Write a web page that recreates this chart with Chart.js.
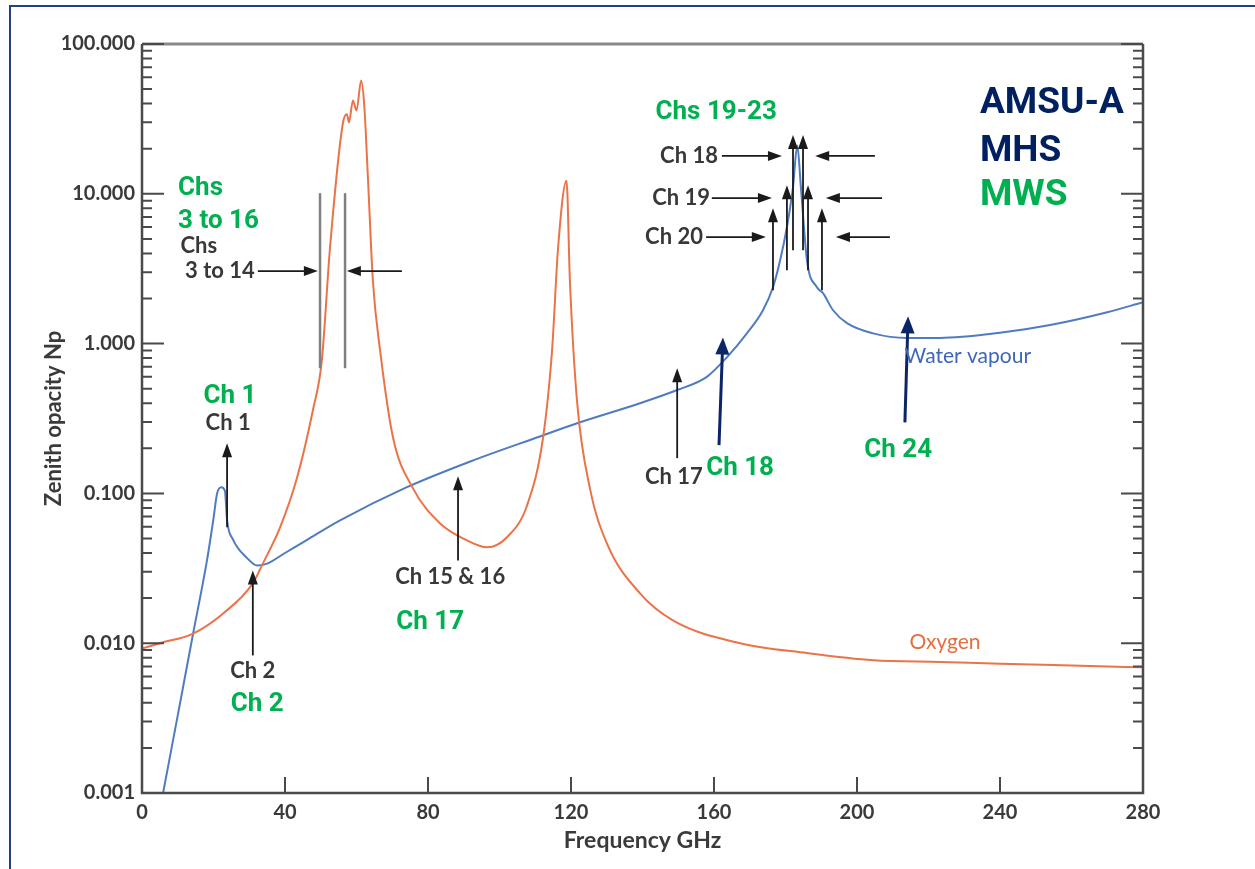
<!DOCTYPE html>
<html>
<head>
<meta charset="utf-8">
<script src="https://cdn.jsdelivr.net/npm/chart.js@4/dist/chart.umd.min.js"></script>
<style>
html, body { margin: 0; padding: 0; background: #fff; overflow: hidden; }
#frame { position: absolute; left: 9px; top: 5px; width: 1300px; height: 900px; border: 2px solid #1f3f8a; box-sizing: border-box; }
#c { position: absolute; left: 0; top: 0; }
</style>
</head>
<body>
<div id="frame"></div>
<canvas id="c" width="1255" height="869"></canvas>
<script>
// values (GHz, zenith opacity in Np)
const oxygenFreq = [0, 5, 14.3, 22.7, 31, 33.8, 38.6, 43.4, 47.8, 50.3, 52.6, 56.2, 57.3, 57.9, 59, 60, 61.3, 62.2, 63.2, 64.6, 66.6, 70.2, 75.8, 83.4, 90.9, 96.5, 102.1, 107.7, 112.2, 114.7, 116.4, 118.75, 119.7, 121.7, 125.3, 130.1, 139.3, 148.5, 167.3, 186, 204.5, 223.2, 240, 260, 280];
const oxygenOpacity = [0.0092, 0.0100, 0.0116, 0.0158, 0.0251, 0.034, 0.059, 0.128, 0.359, 0.77, 4.4, 29.7, 34, 30, 42, 36, 57, 38, 12.7, 2.6, 0.90, 0.237, 0.108, 0.063, 0.0486, 0.0437, 0.051, 0.083, 0.237, 0.90, 4.4, 12.2, 2.6, 0.41, 0.108, 0.046, 0.0215, 0.0142, 0.0100, 0.0086, 0.0077, 0.0075, 0.0073, 0.0071, 0.0069];

const vapourFreq = [5.9, 10, 14.3, 18.2, 20, 21, 22.2, 23.2, 23.8, 25.5, 29.4, 32.2, 35, 40, 46.2, 55.4, 74.1, 92.6, 111.3, 121.7, 139.3, 149.7, 158, 163.6, 169.2, 173.7, 176.5, 178.5, 180.4, 182.1, 183.3, 184.3, 186, 188.8, 190.5, 193.3, 197.2, 204.5, 214, 223.2, 240, 254, 270, 280];
const vapourOpacity = [0.001, 0.0033, 0.0116, 0.036, 0.068, 0.100, 0.110, 0.104, 0.066, 0.049, 0.037, 0.033, 0.034, 0.040, 0.049, 0.066, 0.11, 0.166, 0.24, 0.294, 0.40, 0.49, 0.60, 0.81, 1.17, 1.67, 2.38, 3.6, 6.0, 11.1, 21, 11.1, 3.6, 2.38, 2.17, 1.67, 1.37, 1.17, 1.09, 1.09, 1.18, 1.33, 1.62, 1.89];

const xTicks = [0, 40, 80, 120, 160, 200, 240, 280];
const yTicks = [0.001, 0.01, 0.1, 1, 10, 100];

const GREY = '#383838';
const GREEN = '#00b050';
const NAVY = '#002060';
const LABEL = 'bold 22px Lato';
const BIG = 'bold 26px Roboto';
const HUGE = 'bold 37px Roboto';

// text notes: [text, GHz, Np, colour, font, align]
const notes = [
  ['Chs', 15.9, 4.48, GREY, LABEL, 'center'],
  ['3 to 14', 21.8, 3.05, GREY, LABEL, 'center'],
  ['Ch 1', 24.1, 0.294, GREY, LABEL, 'center'],
  ['Ch 2', 31.0, 0.00658, GREY, LABEL, 'center'],
  ['Ch 15 & 16', 86.2, 0.0275, GREY, LABEL, 'center'],
  ['Ch 17', 148.8, 0.128, GREY, LABEL, 'center'],
  ['Ch 18', 161.1, 17.9, GREY, LABEL, 'right'],
  ['Ch 19', 158.9, 9.36, GREY, LABEL, 'right'],
  ['Ch 20', 156.9, 5.14, GREY, LABEL, 'right'],
  ['Water vapour', 231.0, 0.824, '#3f66b8', '21px Lato', 'center'],
  ['Oxygen', 224.6, 0.0101, '#e36f40', '21px Lato', 'center'],
  ['Chs', 10.1, 10.9, GREEN, BIG, 'left'],
  ['3 to 16', 10.1, 6.57, GREEN, BIG, 'left'],
  ['Ch 1', 24.6, 0.445, GREEN, BIG, 'center'],
  ['Ch 2', 32.2, 0.0039, GREEN, BIG, 'center'],
  ['Ch 17', 80.6, 0.01377, GREEN, BIG, 'center'],
  ['Chs 19-23', 160.6, 35.1, GREEN, BIG, 'center'],
  ['Ch 18', 167.3, 0.147, GREEN, BIG, 'center'],
  ['Ch 24', 211.5, 0.194, GREEN, BIG, 'center'],
  ['AMSU-A', 234.4, 39.7, NAVY, HUGE, 'left'],
  ['MHS', 234.4, 19.0, NAVY, HUGE, 'left'],
  ['MWS', 234.4, 9.66, GREEN, HUGE, 'left']
];

// arrows: [GHz0, Np0, GHz1, Np1, style]  head drawn at the second end
const arrows = [
  [32.4, 3.05, 49.2, 3.05, 'b'], [72.7, 3.05, 57.3, 3.05, 'b'],
  [23.8, 0.0594, 23.8, 0.216, 'b'],
  [31.0, 0.00829, 31.0, 0.0306, 'b'],
  [88.4, 0.0357, 88.4, 0.130, 'b'],
  [149.7, 0.172, 149.7, 0.685, 'b'],
  [162.2, 17.9, 179.0, 17.9, 'b'], [205, 17.9, 188.3, 17.9, 'b'],
  [159.4, 9.36, 176.2, 9.36, 'b'], [207, 9.36, 191.3, 9.36, 'b'],
  [157.8, 5.14, 174.5, 5.14, 'b'], [209.2, 5.14, 194.1, 5.14, 'b'],
  [176.5, 2.27, 176.5, 8.02, 'b'], [180.4, 3.09, 180.4, 11.4, 'b'], [182.1, 4.2, 182.1, 24.7, 'b'],
  [184.9, 4.2, 184.9, 24.7, 'b'], [186.3, 3.09, 186.3, 11.4, 'b'], [190.2, 2.27, 190.2, 8.02, 'b'],
  [49.8, 10.1, 49.8, 0.685, 'g'], [56.8, 10.1, 56.8, 0.685, 'g'],
  [161.4, 0.21, 162.5, 1.10, 'n'], [213.4, 0.298, 214.3, 1.52, 'n']
];

function drawArrow(ctx, x0, y0, x1, y1, len, half) {
  const a = Math.atan2(y1 - y0, x1 - x0);
  const c = Math.cos(a), s = Math.sin(a);
  ctx.beginPath();
  ctx.moveTo(x0, y0);
  ctx.lineTo(x1 - c * len * 0.7, y1 - s * len * 0.7);
  ctx.stroke();
  ctx.beginPath();
  ctx.moveTo(x1, y1);
  ctx.lineTo(x1 - c * len + s * half, y1 - s * len - c * half);
  ctx.lineTo(x1 - c * len - s * half, y1 - s * len + c * half);
  ctx.closePath();
  ctx.fill();
}

const notesPlugin = {
  id: 'notes',
  afterDatasetsDraw(chart) {
    const ctx = chart.ctx, xs = chart.scales.x, ys = chart.scales.y;
    ctx.save();
    arrows.forEach(([f0, v0, f1, v1, st]) => {
      const x0 = xs.getPixelForValue(f0), y0 = ys.getPixelForValue(v0);
      const x1 = xs.getPixelForValue(f1), y1 = ys.getPixelForValue(v1);
      if (st === 'g') {
        ctx.strokeStyle = '#808080'; ctx.lineWidth = 2.5;
        ctx.beginPath(); ctx.moveTo(x0, y0); ctx.lineTo(x1, y1); ctx.stroke();
      } else if (st === 'n') {
        ctx.strokeStyle = ctx.fillStyle = '#0b2566'; ctx.lineWidth = 3;
        drawArrow(ctx, x0, y0, x1, y1, 17, 7);
      } else {
        ctx.strokeStyle = ctx.fillStyle = '#1a1a1a'; ctx.lineWidth = 1.8;
        drawArrow(ctx, x0, y0, x1, y1, 14, 5);
      }
    });
    ctx.textBaseline = 'middle';
    notes.forEach(([t, f, v, col, font, align]) => {
      ctx.fillStyle = col; ctx.font = font; ctx.textAlign = align;
      ctx.fillText(t, xs.getPixelForValue(f), ys.getPixelForValue(v));
    });
    ctx.restore();
  },
  afterDraw(chart) {
    const ctx = chart.ctx, xs = chart.scales.x, ys = chart.scales.y;
    const a = chart.chartArea;
    ctx.save();
    ctx.strokeStyle = '#8a8a8a'; ctx.lineWidth = 3;
    ctx.beginPath(); ctx.moveTo(a.left, a.top); ctx.lineTo(a.right, a.top); ctx.stroke();
    ctx.strokeStyle = '#4a4a4a'; ctx.lineWidth = 2.5;
    ctx.beginPath();
    ctx.moveTo(a.left, a.top); ctx.lineTo(a.left, a.bottom); ctx.lineTo(a.right, a.bottom); ctx.lineTo(a.right, a.top);
    ctx.stroke();
    ctx.lineWidth = 2;
    ctx.beginPath();
    for (let d = -3; d <= 2; d++) {
      for (let m = 1; m <= 9; m++) {
        const v = m * Math.pow(10, d);
        if (v > 100.0001) break;
        const y = ys.getPixelForValue(v);
        const len = m === 1 ? 22 : 10;
        ctx.moveTo(a.left, y); ctx.lineTo(a.left + len, y);
        ctx.moveTo(a.right, y); ctx.lineTo(a.right - len, y);
      }
    }
    xTicks.slice(1, -1).forEach(f => {
      const x = xs.getPixelForValue(f);
      ctx.moveTo(x, a.bottom); ctx.lineTo(x, a.bottom - 16);
    });
    ctx.stroke();
    ctx.restore();
  }
};

const tickFont = { family: 'Lato', size: 20, weight: 'bold' };
new Chart(document.getElementById('c'), {
  type: 'line',
  data: {
    datasets: [
      {
        label: 'Oxygen',
        data: oxygenFreq.map((f, i) => ({ x: f, y: oxygenOpacity[i] })),
        borderColor: '#ea7349',
        borderWidth: 2,
        pointRadius: 0,
        cubicInterpolationMode: 'monotone'
      },
      {
        label: 'Water vapour',
        data: vapourFreq.map((f, i) => ({ x: f, y: vapourOpacity[i] })),
        borderColor: '#4f7cc1',
        borderWidth: 2,
        pointRadius: 0,
        cubicInterpolationMode: 'monotone'
      }
    ]
  },
  options: {
    responsive: false,
    animation: false,
    layout: { padding: { top: 44, right: 112, left: 0, bottom: 0 } },
    plugins: { legend: { display: false }, tooltip: { enabled: false } },
    scales: {
      x: {
        type: 'linear',
        min: 0,
        max: 280,
        afterBuildTicks: s => { s.ticks = xTicks.map(v => ({ value: v })); },
        afterFit: s => { s.height = 76; },
        grid: { display: false, drawTicks: false },
        border: { display: false },
        ticks: { font: tickFont, color: '#3a3a3a', padding: 8, maxRotation: 0, autoSkip: false },
        title: { display: true, text: 'Frequency GHz', font: { family: 'Lato', size: 23, weight: 'bold' }, color: '#3a3a3a', padding: { bottom: 15 } }
      },
      y: {
        type: 'logarithmic',
        min: 0.001,
        max: 100,
        afterBuildTicks: s => { s.ticks = yTicks.map(v => ({ value: v })); },
        afterFit: s => { s.width = 142; },
        grid: { display: false, drawTicks: false },
        border: { display: false },
        ticks: { font: tickFont, color: '#3a3a3a', padding: 7, callback: v => Number(v).toFixed(3) },
        title: { display: true, text: 'Zenith opacity Np', font: { family: 'Lato', size: 22, weight: 'bold' }, color: '#3a3a3a', padding: { top: 41 } }
      }
    }
  },
  plugins: [notesPlugin]
});
</script>
</body>
</html>
